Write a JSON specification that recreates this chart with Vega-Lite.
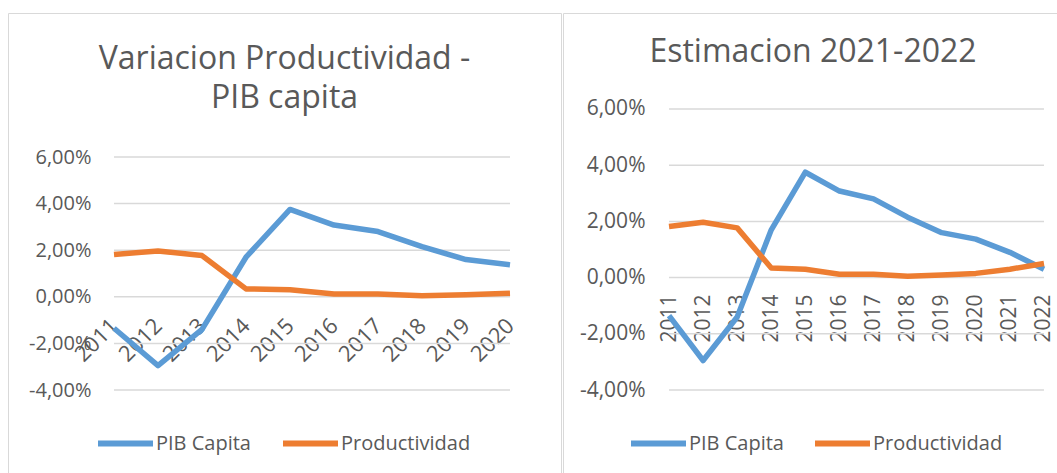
{
  "$schema": "https://vega.github.io/schema/vega-lite/v6.json",
  "background": "white",
  "padding": {"left": 7, "top": 12, "right": 0, "bottom": 0},
  "spacing": 0,
  "datasets": {
    "izq": [
      {"anio": 2011, "serie": "PIB Capita", "valor": -0.0135},
      {"anio": 2012, "serie": "PIB Capita", "valor": -0.0295},
      {"anio": 2013, "serie": "PIB Capita", "valor": -0.014},
      {"anio": 2014, "serie": "PIB Capita", "valor": 0.017},
      {"anio": 2015, "serie": "PIB Capita", "valor": 0.0375},
      {"anio": 2016, "serie": "PIB Capita", "valor": 0.0308},
      {"anio": 2017, "serie": "PIB Capita", "valor": 0.028},
      {"anio": 2018, "serie": "PIB Capita", "valor": 0.0215},
      {"anio": 2019, "serie": "PIB Capita", "valor": 0.016},
      {"anio": 2020, "serie": "PIB Capita", "valor": 0.0137},
      {"anio": 2011, "serie": "Productividad", "valor": 0.0182},
      {"anio": 2012, "serie": "Productividad", "valor": 0.0197},
      {"anio": 2013, "serie": "Productividad", "valor": 0.0177},
      {"anio": 2014, "serie": "Productividad", "valor": 0.0034},
      {"anio": 2015, "serie": "Productividad", "valor": 0.003},
      {"anio": 2016, "serie": "Productividad", "valor": 0.0012},
      {"anio": 2017, "serie": "Productividad", "valor": 0.0012},
      {"anio": 2018, "serie": "Productividad", "valor": 0.0005},
      {"anio": 2019, "serie": "Productividad", "valor": 0.0009},
      {"anio": 2020, "serie": "Productividad", "valor": 0.0015}
    ],
    "der": [
      {"anio": 2011, "serie": "PIB Capita", "valor": -0.0135},
      {"anio": 2012, "serie": "PIB Capita", "valor": -0.0295},
      {"anio": 2013, "serie": "PIB Capita", "valor": -0.014},
      {"anio": 2014, "serie": "PIB Capita", "valor": 0.017},
      {"anio": 2015, "serie": "PIB Capita", "valor": 0.0375},
      {"anio": 2016, "serie": "PIB Capita", "valor": 0.0308},
      {"anio": 2017, "serie": "PIB Capita", "valor": 0.028},
      {"anio": 2018, "serie": "PIB Capita", "valor": 0.0215},
      {"anio": 2019, "serie": "PIB Capita", "valor": 0.016},
      {"anio": 2020, "serie": "PIB Capita", "valor": 0.0137},
      {"anio": 2021, "serie": "PIB Capita", "valor": 0.009},
      {"anio": 2022, "serie": "PIB Capita", "valor": 0.003},
      {"anio": 2011, "serie": "Productividad", "valor": 0.0182},
      {"anio": 2012, "serie": "Productividad", "valor": 0.0197},
      {"anio": 2013, "serie": "Productividad", "valor": 0.0177},
      {"anio": 2014, "serie": "Productividad", "valor": 0.0034},
      {"anio": 2015, "serie": "Productividad", "valor": 0.003},
      {"anio": 2016, "serie": "Productividad", "valor": 0.0012},
      {"anio": 2017, "serie": "Productividad", "valor": 0.0012},
      {"anio": 2018, "serie": "Productividad", "valor": 0.0005},
      {"anio": 2019, "serie": "Productividad", "valor": 0.0009},
      {"anio": 2020, "serie": "Productividad", "valor": 0.0015},
      {"anio": 2021, "serie": "Productividad", "valor": 0.003},
      {"anio": 2022, "serie": "Productividad", "valor": 0.005}
    ],
    "grid_izq": [
      {"valor": -0.04, "anio": 2011, "hasta": 2020},
      {"valor": -0.02, "anio": 2011, "hasta": 2020},
      {"valor": 0, "anio": 2011, "hasta": 2020},
      {"valor": 0.02, "anio": 2011, "hasta": 2020},
      {"valor": 0.04, "anio": 2011, "hasta": 2020},
      {"valor": 0.06, "anio": 2011, "hasta": 2020}
    ],
    "grid_der": [
      {"valor": -0.04, "anio": 2011, "hasta": 2022},
      {"valor": -0.02, "anio": 2011, "hasta": 2022},
      {"valor": 0, "anio": 2011, "hasta": 2022},
      {"valor": 0.02, "anio": 2011, "hasta": 2022},
      {"valor": 0.04, "anio": 2011, "hasta": 2022},
      {"valor": 0.06, "anio": 2011, "hasta": 2022}
    ]
  },
  "hconcat": [
    {
      "width": 553,
      "height": 463,
      "title": {
        "text": ["Variacion Productividad -", "PIB capita"],
        "anchor": "middle",
        "frame": "group",
        "baseline": "alphabetic",
        "offset": -127,
        "lineHeight": 39,
        "fontSize": 32,
        "font": "Open Sans",
        "fontWeight": "normal",
        "color": "#595959"
      },
      "encoding": {
        "x": {
          "field": "anio", "type": "quantitative",
          "scale": {"domain": [2008.591, 2021.159], "nice": false, "zero": false},
          "axis": {
            "title": null, "orient": "bottom", "offset": -179,
            "values": [2011, 2012, 2013, 2014, 2015, 2016, 2017, 2018, 2019, 2020],
            "format": "d", "labelAngle": -45, "labelAlign": "right", "labelBaseline": "middle",
            "labelPadding": 25, "grid": false, "domain": false, "ticks": false, "tickSize": 0,
            "labelFont": "Open Sans", "labelFontSize": 22, "labelColor": "#595959",
            "labelOverlap": false, "labelBound": false, "labelFlush": false
          }
        },
        "y": {
          "field": "valor", "type": "quantitative",
          "scale": {"domain": [-0.0769, 0.1218], "nice": false, "zero": false},
          "axis": {
            "title": null, "orient": "left", "offset": -83,
            "values": [-0.04, -0.02, 0, 0.02, 0.04, 0.06],
            "labelExpr": "replace(replace(format(datum.value, '.2%'), '.', ','), '\u2212', '-')",
            "grid": false, "domain": false, "ticks": false, "tickSize": 0, "labelPadding": 0,
            "labelFont": "Open Sans", "labelFontSize": 20, "labelColor": "#595959",
            "labelOverlap": false, "labelBound": false, "labelFlush": false
          }
        }
      },
      "layer": [
        {
          "data": {"name": "grid_izq"},
          "mark": {"type": "rule", "color": "#D9D9D9", "strokeWidth": 1.5},
          "encoding": {
            "x2": {"field": "hasta"}
          }
        },
        {
          "data": {"name": "izq"},
          "mark": {"type": "line", "strokeWidth": 5.5, "strokeJoin": "round", "strokeCap": "butt"},
          "encoding": {
            "color": {
              "field": "serie", "type": "nominal",
              "scale": {"domain": ["PIB Capita", "Productividad"], "range": ["#5B9BD5", "#ED7D31"]},
              "legend": {
                "title": null, "orient": "none", "legendX": 87, "legendY": 400,
                "direction": "horizontal", "gridAlign": "none", "symbolType": "stroke", "symbolSize": 3025,
                "symbolStrokeWidth": 6, "labelFont": "Open Sans", "labelFontSize": 20,
                "labelColor": "#595959", "labelOffset": 0, "columnPadding": 20, "padding": 0
              }
            }
          }
        }
      ]
    },
    {
      "width": 500,
      "height": 463,
      "title": {
        "text": "Estimacion 2021-2022",
        "anchor": "middle",
        "frame": "group",
        "baseline": "alphabetic",
        "offset": -81,
        "fontSize": 32,
        "font": "Open Sans",
        "fontWeight": "normal",
        "color": "#595959"
      },
      "encoding": {
        "x": {
          "field": "anio", "type": "quantitative",
          "scale": {"domain": [2007.89, 2022.558], "nice": false, "zero": false},
          "axis": {
            "title": null, "orient": "bottom", "offset": -198,
            "values": [2011, 2012, 2013, 2014, 2015, 2016, 2017, 2018, 2019, 2020, 2021, 2022],
            "format": "d", "labelAngle": -90, "labelAlign": "right", "labelBaseline": "middle",
            "labelPadding": 16, "grid": false, "domain": false, "ticks": false, "tickSize": 0,
            "labelFont": "Open Sans", "labelFontSize": 21, "labelColor": "#595959",
            "labelOverlap": false, "labelBound": false, "labelFlush": false
          }
        },
        "y": {
          "field": "valor", "type": "quantitative",
          "scale": {"domain": [-0.0706, 0.09416], "nice": false, "zero": false},
          "axis": {
            "title": null, "orient": "left", "offset": -82,
            "values": [-0.04, -0.02, 0, 0.02, 0.04, 0.06],
            "labelExpr": "replace(replace(format(datum.value, '.2%'), '.', ','), '\u2212', '-')",
            "grid": false, "domain": false, "ticks": false, "tickSize": 0, "labelPadding": 0,
            "labelFont": "Open Sans", "labelFontSize": 21, "labelColor": "#595959",
            "labelOverlap": false, "labelBound": false, "labelFlush": false
          }
        }
      },
      "layer": [
        {
          "data": {"name": "grid_der"},
          "mark": {"type": "rule", "color": "#D9D9D9", "strokeWidth": 1.5},
          "encoding": {
            "x2": {"field": "hasta"}
          }
        },
        {
          "data": {"name": "der"},
          "mark": {"type": "line", "strokeWidth": 5.5, "strokeJoin": "round", "strokeCap": "butt"},
          "encoding": {
            "color": {
              "field": "serie", "type": "nominal",
              "scale": {"domain": ["PIB Capita", "Productividad"], "range": ["#5B9BD5", "#ED7D31"]},
              "legend": {
                "title": null, "orient": "none", "legendX": 65, "legendY": 400,
                "direction": "horizontal", "gridAlign": "none", "symbolType": "stroke", "symbolSize": 3025,
                "symbolStrokeWidth": 6, "labelFont": "Open Sans", "labelFontSize": 20,
                "labelColor": "#595959", "labelOffset": 0, "columnPadding": 19, "padding": 0
              }
            }
          }
        }
      ]
    }
  ],
  "resolve": {
    "scale": {"x": "independent", "y": "independent", "color": "independent"},
    "legend": {"color": "independent"}
  },
  "config": {
    "view": {"stroke": "#D9D9D9", "strokeWidth": 1},
    "font": "Open Sans"
  }
}
